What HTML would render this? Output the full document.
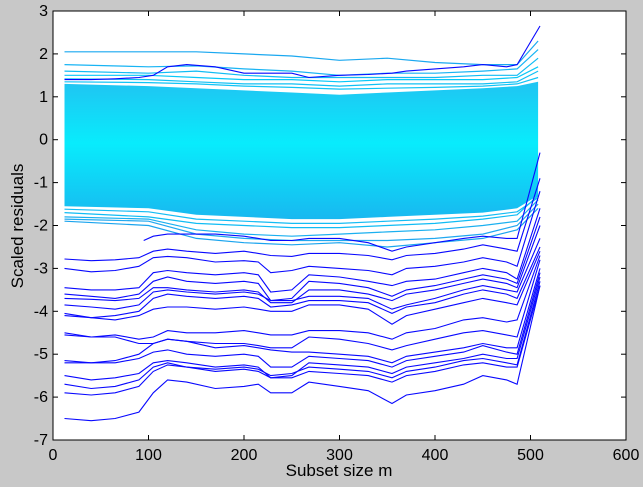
<!DOCTYPE html>
<html><head><meta charset="utf-8"><style>
html,body{margin:0;padding:0;background:#c8c8c8;}
svg{display:block;font-family:"Liberation Sans",sans-serif;}
</style></head><body>
<svg id="chart" width="643" height="487" viewBox="0 0 643 487" xmlns="http://www.w3.org/2000/svg">
<defs>
<linearGradient id="bandGrad" x1="0" y1="0" x2="0" y2="1">
<stop offset="0" stop-color="#20c4f2"/><stop offset="0.45" stop-color="#08ecfc"/><stop offset="1" stop-color="#18b8f0"/>
</linearGradient>
</defs>
<rect x="0" y="0" width="643" height="487" fill="#c8c8c8"/>
<rect x="53" y="11" width="573" height="429" fill="#ffffff"/>
<g id="marks"></g>
<g id="axes"></g>
<text x="339" y="476" font-size="17" text-anchor="middle">Subset size m</text>
<text transform="translate(23,226) rotate(-90)" font-size="17" text-anchor="middle">Scaled residuals</text>
</svg>
<script>
const xTicks = [0,100,200,300,400,500,600];
const yTicks = [3,2,1,0,-1,-2,-3,-4,-5,-6,-7];
const mCyan = [12,100,150,200,250,300,350,400,450,486,508];
const bandUpper = [1.3,1.25,1.2,1.15,1.1,1.05,1.1,1.15,1.2,1.25,1.35];
const bandLower = [-1.55,-1.6,-1.75,-1.8,-1.85,-1.85,-1.8,-1.75,-1.7,-1.6,-1.3];
const cyan1 = [2.05,2.05,2.05,2.0,1.95,1.85,1.9,1.8,1.75,1.75,2.3];
const cyan2 = [1.75,1.7,1.72,1.65,1.6,1.5,1.55,1.55,1.6,1.65,2.1];
const cyan3 = [1.6,1.55,1.6,1.5,1.45,1.45,1.45,1.45,1.5,1.5,1.9];
const cyan4 = [1.5,1.5,1.45,1.4,1.4,1.35,1.4,1.4,1.4,1.45,1.7];
const cyan5 = [1.42,1.4,1.35,1.3,1.3,1.25,1.3,1.3,1.3,1.35,1.6];
const cyan6 = [-1.7,-1.8,-1.95,-2.0,-2.05,-2.05,-2.0,-1.95,-1.85,-1.75,-1.3];
const cyan7 = [-1.8,-1.85,-2.1,-2.2,-2.25,-2.2,-2.15,-2.1,-2.0,-1.9,-1.4];
const cyan8 = [-1.85,-1.9,-2.2,-2.3,-2.35,-2.35,-2.35,-2.3,-2.2,-2.0,-1.5];
const cyan9 = [-1.9,-2.0,-2.3,-2.4,-2.45,-2.4,-2.5,-2.4,-2.3,-2.1,-1.6];
const cyan10 = [1.35,1.33,1.3,1.25,1.22,1.18,1.2,1.22,1.25,1.3,1.45];
const cyan11 = [-1.62,-1.68,-1.85,-1.9,-1.95,-1.95,-1.9,-1.85,-1.78,-1.68,-1.35];
const mBlue = [12,40,65,90,105,120,140,170,200,215,228,250,268,300,330,355,370,400,430,450,475,486,510];
const blueTop = [1.4,1.4,1.42,1.45,1.5,1.7,1.75,1.7,1.55,1.55,1.55,1.55,1.45,1.5,1.52,1.55,1.6,1.65,1.7,1.75,1.7,1.75,2.65];
const mBlueMid = [95,105,120,140,170,200,215,228,250,268,300,330,355,370,400,430,450,475,486,510];
const blueMid = [-2.35,-2.25,-2.2,-2.2,-2.2,-2.25,-2.3,-2.35,-2.35,-2.3,-2.3,-2.4,-2.6,-2.5,-2.4,-2.3,-2.25,-2.3,-2.3,-0.3];
const blue1 = [-2.78,-2.82,-2.8,-2.75,-2.6,-2.55,-2.6,-2.65,-2.6,-2.65,-2.7,-2.72,-2.65,-2.65,-2.7,-2.8,-2.7,-2.65,-2.55,-2.45,-2.55,-2.6,-0.9];
const blue2 = [-3.0,-3.08,-3.05,-2.95,-2.75,-2.72,-2.75,-2.85,-2.82,-2.85,-3.1,-3.05,-2.95,-3.0,-3.05,-3.15,-3.0,-2.95,-2.85,-2.75,-2.85,-2.95,-1.2];
const blue3 = [-3.45,-3.5,-3.5,-3.45,-3.1,-3.05,-3.1,-3.15,-3.1,-3.15,-3.55,-3.5,-3.15,-3.2,-3.3,-3.4,-3.3,-3.25,-3.1,-3.0,-3.1,-3.25,-1.6];
const blue4 = [-3.6,-3.65,-3.7,-3.6,-3.3,-3.2,-3.3,-3.35,-3.3,-3.35,-3.75,-3.7,-3.3,-3.35,-3.45,-3.65,-3.5,-3.4,-3.25,-3.15,-3.25,-3.35,-1.8];
const blue5 = [-3.7,-3.72,-3.75,-3.7,-3.45,-3.45,-3.5,-3.55,-3.5,-3.55,-3.8,-3.8,-3.5,-3.5,-3.6,-3.75,-3.6,-3.5,-3.35,-3.25,-3.35,-3.45,-2.0];
const blue6 = [-3.85,-3.9,-3.95,-3.85,-3.55,-3.5,-3.55,-3.6,-3.55,-3.6,-3.75,-3.75,-3.65,-3.65,-3.7,-3.95,-3.85,-3.7,-3.5,-3.4,-3.5,-3.55,-2.3];
const blue7 = [-4.05,-4.15,-4.1,-4.0,-3.7,-3.6,-3.65,-3.7,-3.65,-3.7,-3.9,-3.85,-3.75,-3.75,-3.8,-4.05,-3.9,-3.8,-3.6,-3.5,-3.6,-3.7,-2.5];
const blue8 = [-4.1,-4.15,-4.2,-4.1,-3.95,-3.9,-3.9,-3.95,-3.9,-3.95,-4.0,-4.0,-3.85,-3.85,-3.95,-4.3,-4.1,-3.95,-3.8,-3.7,-3.8,-3.85,-2.6];
const blue9 = [-4.5,-4.6,-4.55,-4.65,-4.6,-4.45,-4.5,-4.5,-4.45,-4.5,-4.55,-4.55,-4.45,-4.45,-4.5,-4.65,-4.5,-4.4,-4.2,-4.15,-4.25,-4.2,-2.7];
const blue10 = [-4.55,-4.6,-4.6,-4.75,-4.75,-4.65,-4.7,-4.75,-4.75,-4.8,-4.85,-4.85,-4.6,-4.65,-4.75,-4.9,-4.8,-4.65,-4.5,-4.45,-4.55,-4.6,-2.8];
const blue11 = [-5.15,-5.2,-5.15,-5.0,-4.75,-4.65,-4.7,-4.85,-4.8,-4.85,-4.9,-4.95,-4.95,-5.0,-5.05,-5.2,-5.05,-4.95,-4.85,-4.75,-4.85,-4.85,-3.0];
const blue12 = [-5.2,-5.2,-5.2,-5.1,-4.95,-4.9,-5.0,-5.05,-5.0,-5.05,-5.3,-5.3,-5.05,-5.1,-5.15,-5.3,-5.15,-5.05,-4.95,-4.8,-4.95,-5.0,-3.1];
const blue13 = [-5.5,-5.6,-5.55,-5.45,-5.2,-5.15,-5.2,-5.3,-5.25,-5.3,-5.55,-5.5,-5.2,-5.25,-5.3,-5.45,-5.3,-5.2,-5.1,-5.0,-5.1,-5.1,-3.2];
const blue14 = [-5.7,-5.8,-5.75,-5.6,-5.3,-5.2,-5.3,-5.35,-5.3,-5.35,-5.5,-5.45,-5.3,-5.35,-5.4,-5.55,-5.4,-5.3,-5.15,-5.1,-5.2,-5.25,-3.3];
const blue15 = [-5.9,-5.95,-5.9,-5.75,-5.4,-5.25,-5.3,-5.4,-5.35,-5.4,-5.55,-5.55,-5.4,-5.45,-5.5,-5.65,-5.5,-5.4,-5.25,-5.2,-5.3,-5.3,-3.4];
const blue16 = [-6.5,-6.55,-6.5,-6.35,-5.9,-5.6,-5.65,-5.8,-5.75,-5.7,-5.9,-5.9,-5.65,-5.75,-5.85,-6.15,-5.95,-5.85,-5.7,-5.5,-5.6,-5.7,-3.4];

const NS='http://www.w3.org/2000/svg';
const X0=53,X1=626,Y0=11,Y1=440;
function sx(v){return X0+(v-0)/(600-0)*(X1-X0);}
function sy(v){return Y0+(3-v)/(3-(-7))*(Y1-Y0);}
const marks=document.getElementById('marks');
const axes=document.getElementById('axes');
function pts(ms,vs){return ms.map((m,i)=>sx(m).toFixed(1)+','+sy(vs[i]).toFixed(1)).join(' ');}
function line(ms,vs,color,name,w){
  const p=document.createElementNS(NS,'polyline');
  p.setAttribute('points',pts(ms,vs));
  p.setAttribute('fill','none');p.setAttribute('stroke',color);p.setAttribute('stroke-width',w||'1');
  
  
  marks.appendChild(p);
}
const band=document.createElementNS(NS,'polygon');
const up=mCyan.map((m,i)=>sx(m).toFixed(1)+','+sy(bandUpper[i]).toFixed(1));
const lo=mCyan.map((m,i)=>sx(m).toFixed(1)+','+sy(bandLower[i]).toFixed(1)).reverse();
band.setAttribute('points',up.concat(lo).join(' '));
band.setAttribute('fill','url(#bandGrad)');


marks.appendChild(band);
const cyans=[cyan1,cyan2,cyan3,cyan4,cyan5,cyan6,cyan7,cyan8,cyan9,cyan10,cyan11];
const cyCols=['#1aa8f0','#18b4f4','#10bcf4','#08c8f8','#10c0f4','#10bcf4','#1ab0f0','#20a8f0','#1aa4ee','#10c4f6','#14bcf4'];
cyans.forEach((s,i)=>line(mCyan,s,cyCols[i],'cyan-residual-line-'+(i+1),'1.2'));
line(mBlueMid,blueMid,'#0808ff','outlier-residual-line-mid','1.1');
const blues=[blueTop,blue1,blue2,blue3,blue4,blue5,blue6,blue7,blue8,blue9,blue10,blue11,blue12,blue13,blue14,blue15,blue16];
blues.forEach((s,i)=>line(mBlue,s,'#0808ff','outlier-residual-line-'+(i+1),'1.1'));
const fr=document.createElementNS(NS,'rect');
fr.setAttribute('x',X0);fr.setAttribute('y',Y0);fr.setAttribute('width',X1-X0);fr.setAttribute('height',Y1-Y0);
fr.setAttribute('fill','none');fr.setAttribute('stroke','#000');fr.setAttribute('stroke-width','1');


axes.appendChild(fr);
function tick(x1,y1,x2,y2){const l=document.createElementNS(NS,'line');
  l.setAttribute('x1',x1);l.setAttribute('y1',y1);l.setAttribute('x2',x2);l.setAttribute('y2',y2);l.setAttribute('stroke','#000');
  
  
  axes.appendChild(l);}
xTicks.forEach(t=>{const x=sx(t);tick(x,Y1,x,Y1-5);tick(x,Y0,x,Y0+5);
  const tx=document.createElementNS(NS,'text');tx.setAttribute('x',x);tx.setAttribute('y',Y1+20);
  tx.setAttribute('text-anchor','middle');tx.setAttribute('font-size','16');tx.textContent=t;
  
  
  axes.appendChild(tx);});
yTicks.forEach(t=>{const y=sy(t);tick(X0,y,X0+5,y);tick(X1,y,X1-5,y);
  const tx=document.createElementNS(NS,'text');tx.setAttribute('x',X0-5);tx.setAttribute('y',y+5);
  tx.setAttribute('text-anchor','end');tx.setAttribute('font-size','16');tx.textContent=t;
  
  
  axes.appendChild(tx);});
</script>
</body></html>
